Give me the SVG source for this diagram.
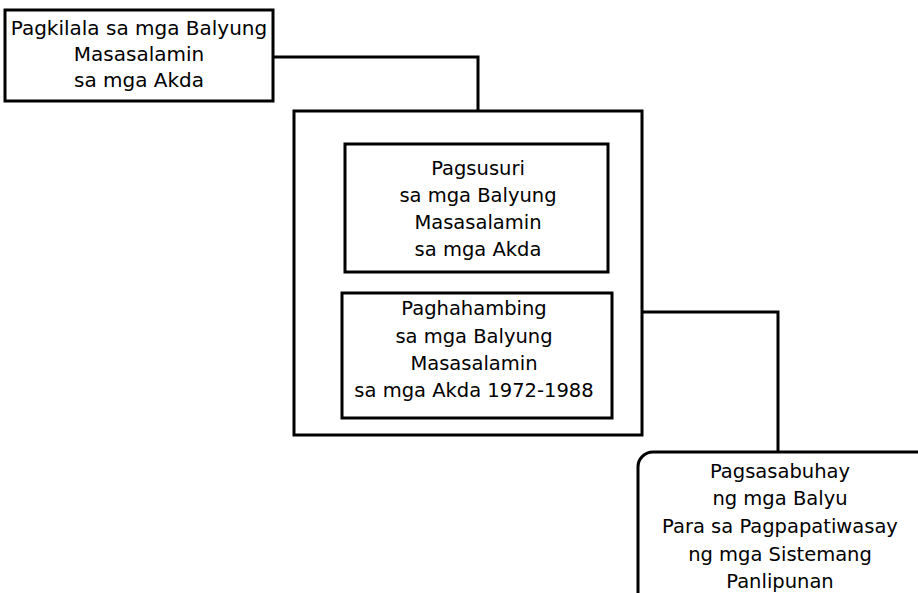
<svg xmlns="http://www.w3.org/2000/svg" width="918" height="593" viewBox="0 0 918 593">
<style>
.box{fill:#fff;stroke:#000;stroke-width:3}
.ln{fill:none;stroke:#000;stroke-width:3}
text{font-family:"DejaVu Sans","Verdana",sans-serif;font-size:19.5px;fill:#000;text-anchor:middle}
.big{font-size:20px}
</style>
<rect width="918" height="593" fill="#fff"/>
<g id="connectors">
<polyline class="ln" points="273,57 478,57 478,111"/>
<line class="ln" x1="479" y1="272" x2="479" y2="293"/>
<polyline class="ln" points="642,312 778,312 778,452"/>
</g>
<g id="n1">
<rect class="box" x="5" y="10" width="268" height="91"/>
<text class="big" x="139" y="35">Pagkilala sa mga Balyung</text>
<text class="big" x="139" y="61">Masasalamin</text>
<text class="big" x="139" y="87">sa mga Akda</text>
</g>
<g id="outer">
<rect class="box" x="294" y="111" width="348" height="324"/>
</g>
<g id="n2">
<rect class="box" x="345" y="144" width="263" height="128"/>
<text x="478" y="175">Pagsusuri</text>
<text x="478" y="202">sa mga Balyung</text>
<text x="478" y="229">Masasalamin</text>
<text x="478" y="256">sa mga Akda</text>
</g>
<g id="n3">
<rect class="box" x="342" y="293" width="270" height="125"/>
<text x="474" y="315">Paghahambing</text>
<text x="474" y="343">sa mga Balyung</text>
<text x="474" y="370">Masasalamin</text>
<text x="474" y="397">sa mga Akda 1972-1988</text>
</g>
<g id="n4">
<rect class="box" x="638" y="452" width="296" height="160" rx="15"/>
<text x="780" y="478">Pagsasabuhay</text>
<text x="780" y="505">ng mga Balyu</text>
<text x="780" y="533">Para sa Pagpapatiwasay</text>
<text x="780" y="561">ng mga Sistemang</text>
<text x="780" y="588">Panlipunan</text>
</g>
</svg>
